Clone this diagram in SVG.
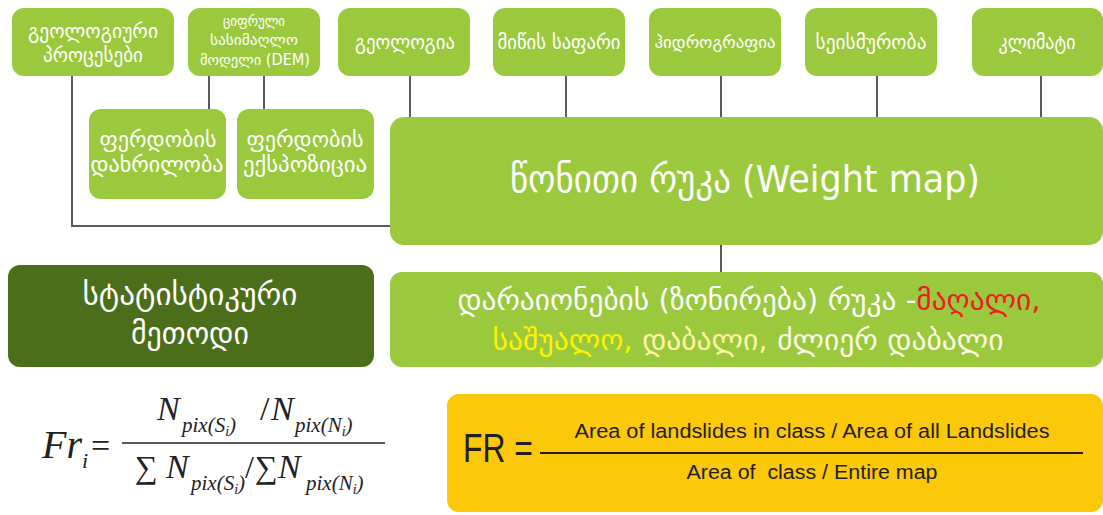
<svg xmlns="http://www.w3.org/2000/svg" width="1103" height="515" viewBox="0 0 1103 515">
<style>
.g{fill:#9bc93d}
.t{fill:#ffffff;font-family:"DejaVu Sans",sans-serif;text-anchor:middle}
.c{stroke:#5a5a5a;stroke-width:2;fill:none}
.m{font-family:"Liberation Serif",serif;font-style:italic;fill:#222}
.r{font-family:"Liberation Serif",serif;fill:#222}
.s{font-family:"Liberation Sans",sans-serif;fill:#231f20}
</style>
<rect width="1103" height="515" fill="#ffffff"/>
<g id="connectors">
<path class="c" d="M72 76V226H392"/>
<path class="c" d="M209 76V110"/>
<path class="c" d="M264 76V110"/>
<path class="c" d="M410 76V118"/>
<path class="c" d="M566 76V118"/>
<path class="c" d="M721 76V118"/>
<path class="c" d="M877 76V118"/>
<path class="c" d="M1041 76V118"/>
<path class="c" d="M721 244V273"/>
</g>
<g id="n1"><rect class="g" x="12" y="8" width="162" height="68" rx="12"/>
<text class="t" font-size="19"><tspan x="93" y="38" textLength="130" lengthAdjust="spacingAndGlyphs">გეოლოგიური</tspan><tspan x="93" y="62" textLength="100" lengthAdjust="spacingAndGlyphs">პროცესები</tspan></text></g>
<g id="n2"><rect class="g" x="188" y="8" width="132" height="68" rx="12"/>
<text class="t" font-size="15"><tspan x="254" y="26" textLength="62" lengthAdjust="spacingAndGlyphs">ციფრული</tspan><tspan x="254" y="45" textLength="88" lengthAdjust="spacingAndGlyphs">სასიმაღლო</tspan><tspan x="255" y="65" textLength="110" lengthAdjust="spacingAndGlyphs">მოდელი (DEM)</tspan></text></g>
<g id="n3"><rect class="g" x="338" y="8" width="132" height="68" rx="12"/>
<text class="t" font-size="19" x="405" y="49" textLength="100" lengthAdjust="spacingAndGlyphs">გეოლოგია</text></g>
<g id="n4"><rect class="g" x="493" y="8" width="132" height="68" rx="12"/>
<text class="t" font-size="19" x="559" y="49" textLength="123" lengthAdjust="spacingAndGlyphs">მიწის საფარი</text></g>
<g id="n5"><rect class="g" x="649" y="8" width="132" height="68" rx="12"/>
<text class="t" font-size="17" x="715" y="48" textLength="121" lengthAdjust="spacingAndGlyphs">ჰიდროგრაფია</text></g>
<g id="n6"><rect class="g" x="805" y="8" width="132" height="68" rx="12"/>
<text class="t" font-size="19" x="871" y="49" textLength="111" lengthAdjust="spacingAndGlyphs">სეისმურობა</text></g>
<g id="n7"><rect class="g" x="972" y="8" width="131" height="68" rx="12"/>
<text class="t" font-size="19" x="1037" y="49" textLength="77" lengthAdjust="spacingAndGlyphs">კლიმატი</text></g>
<g id="n8"><rect class="g" x="89" y="109" width="137" height="90" rx="12"/>
<text class="t" font-size="21"><tspan x="158" y="147" textLength="117" lengthAdjust="spacingAndGlyphs">ფერდობის</tspan><tspan x="157" y="172" textLength="133" lengthAdjust="spacingAndGlyphs">დახრილობა</tspan></text></g>
<g id="n9"><rect class="g" x="237" y="109" width="137" height="90" rx="12"/>
<text class="t" font-size="21"><tspan x="305" y="147" textLength="117" lengthAdjust="spacingAndGlyphs">ფერდობის</tspan><tspan x="305" y="172" textLength="124" lengthAdjust="spacingAndGlyphs">ექსპოზიცია</tspan></text></g>
<g id="n10"><rect class="g" x="390" y="117" width="713" height="128" rx="14"/>
<text class="t" font-size="38" x="745" y="192" textLength="470" lengthAdjust="spacingAndGlyphs">წონითი რუკა (Weight map)</text></g>
<g id="n11"><rect class="g" x="390" y="272" width="713" height="95" rx="12"/>
<text class="t" font-size="29"><tspan x="749" y="310" textLength="583" lengthAdjust="spacingAndGlyphs">დარაიონების (ზონირება) რუკა -<tspan fill="#ed1c24">მაღალი,</tspan></tspan><tspan x="748" y="350" textLength="511" lengthAdjust="spacingAndGlyphs"><tspan fill="#fff200">საშუალო,</tspan><tspan fill="#fff4a8"> დაბალი,</tspan><tspan fill="#fffbe6"> ძლიერ დაბალი</tspan></tspan></text></g>
<g id="n12"><rect x="8" y="265" width="366" height="102" rx="12" fill="#4b6e1b"/>
<text class="t" font-size="31"><tspan x="190" y="305" textLength="215" lengthAdjust="spacingAndGlyphs">სტატისტიკური</tspan><tspan x="190" y="344" textLength="118" lengthAdjust="spacingAndGlyphs">მეთოდი</tspan></text></g>
<g id="formula1">
<text class="m" font-size="40" x="42" y="458">Fr</text>
<text class="m" font-size="22" x="82" y="468">i</text>
<text class="r" font-size="34" x="91" y="457">=</text>
<line x1="122" y1="443" x2="385" y2="443" stroke="#222" stroke-width="1.5"/>
<text class="m" font-size="34" x="157" y="420">N</text>
<text class="m" font-size="21" x="182" y="432">pix(S<tspan font-size="14" dy="4">i</tspan><tspan dy="-4">)</tspan></text>
<text class="r" font-size="34" x="260" y="420">/</text>
<text class="m" font-size="34" x="271" y="420">N</text>
<text class="m" font-size="21" x="295" y="432">pix(N<tspan font-size="14" dy="4">i</tspan><tspan dy="-4">)</tspan></text>
<text class="r" font-size="32" x="135" y="478">∑</text>
<text class="m" font-size="34" x="166" y="478">N</text>
<text class="m" font-size="21" x="191" y="490">pix(S<tspan font-size="14" dy="4">i</tspan><tspan dy="-4">)</tspan></text>
<text class="r" font-size="32" x="245" y="478">/</text>
<text class="r" font-size="32" x="255" y="478">∑</text>
<text class="m" font-size="34" x="278" y="478">N</text>
<text class="m" font-size="21" x="306" y="490">pix(N<tspan font-size="14" dy="4">i</tspan><tspan dy="-4">)</tspan></text>
</g>
<g id="formula2"><rect x="447" y="394" width="656" height="118" rx="12" fill="#fcc80a"/>
<text class="s" font-size="40" x="463" y="462" textLength="70" lengthAdjust="spacingAndGlyphs">FR =</text>
<line x1="540" y1="453" x2="1083" y2="453" stroke="#231f20" stroke-width="2"/>
<text class="s" font-size="20" x="812" y="438" text-anchor="middle" textLength="475" lengthAdjust="spacingAndGlyphs">Area of landslides in class / Area of all Landslides</text>
<text class="s" font-size="20" x="812" y="479" text-anchor="middle" textLength="251" lengthAdjust="spacingAndGlyphs" xml:space="preserve" style="white-space:pre">Area of  class / Entire map</text>
</g>
</svg>
